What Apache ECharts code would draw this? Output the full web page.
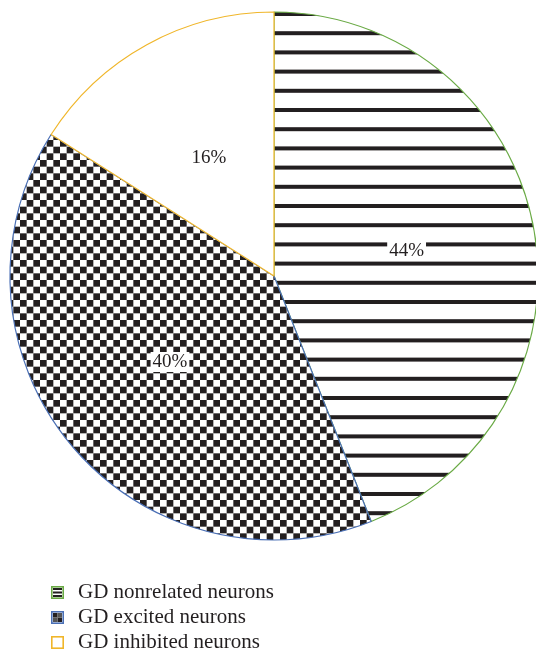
<!DOCTYPE html>
<html>
<head>
<meta charset="utf-8">
<script src="https://cdn.jsdelivr.net/npm/echarts@6/dist/echarts.min.js"></script>
<style>
  html, body { margin: 0; padding: 0; background: #fff; }
  #chart { width: 536px; height: 654px; }
</style>
</head>
<body>
<div id="chart"></div>
<script>
// Share of neurons by response to GD
const categories = ['GD nonrelated neurons', 'GD excited neurons', 'GD inhibited neurons'];
const percentages = [44, 40, 16];

const INK = '#231f20';
const edgeColors = ['#6aaa45', '#4a6fb5', '#f0b62a'];

// Horizontal stripe fill: 5 periods of 19.2px in one tile
function stripeTile() {
  const c = document.createElement('canvas');
  c.width = 64; c.height = 96;
  const g = c.getContext('2d');
  g.fillStyle = '#fff'; g.fillRect(0, 0, 64, 96);
  g.fillStyle = INK;
  for (let k = 0; k < 5; k++) {
    const y = 14 + 19.2 * k;
    g.fillRect(0, y - 2, 64, 4);
  }
  return c;
}

// Checkerboard fill: 6x6 cells of 6.67px in one tile
function checkerTile() {
  const n = 6, s = 40 / n;
  const c = document.createElement('canvas');
  c.width = 40; c.height = 40;
  const g = c.getContext('2d');
  g.fillStyle = '#fff'; g.fillRect(0, 0, 40, 40);
  g.fillStyle = INK;
  for (let i = 0; i < n; i++) {
    for (let j = 0; j < n; j++) {
      if ((i + j) % 2 === 0) g.fillRect(i * s, j * s, s, s);
    }
  }
  return c;
}

// Small framed swatches for the legend
function swatch(kind, edge) {
  const c = document.createElement('canvas');
  c.width = 13; c.height = 13;
  const g = c.getContext('2d');
  g.fillStyle = '#fff'; g.fillRect(0, 0, 13, 13);
  g.fillStyle = INK;
  if (kind === 'stripe') {
    g.fillRect(2, 2, 9, 2);
    g.fillRect(2, 5.5, 9, 2);
    g.fillRect(2, 9, 9, 2);
  } else if (kind === 'check') {
    g.fillRect(2, 2, 4.5, 4.5);
    g.fillRect(6.5, 6.5, 4.5, 4.5);
    g.fillStyle = '#555';
    g.fillRect(6.5, 2, 4.5, 4.5);
    g.fillRect(2, 6.5, 4.5, 4.5);
  }
  g.strokeStyle = edge; g.lineWidth = 1.6;
  g.strokeRect(0.8, 0.8, 11.4, 11.4);
  return 'image://' + c.toDataURL();
}

const fills = [
  { image: stripeTile(), repeat: 'repeat' },
  { image: checkerTile(), repeat: 'repeat' },
  '#ffffff'
];
const swatchKinds = ['stripe', 'check', 'plain'];
const labelBoxes = [true, true, false];

const chart = echarts.init(document.getElementById('chart'), null, { renderer: 'canvas' });

chart.setOption({
  animation: false,
  backgroundColor: '#fff',
  legend: {
    orient: 'vertical',
    left: 46,
    top: 577,
    height: 120,
    itemWidth: 13,
    itemHeight: 13,
    itemGap: 4,
    selectedMode: false,
    textStyle: { fontFamily: 'Liberation Serif', fontSize: 21, color: '#231f20', padding: [0, 0, 0, 9] },
    data: categories.map((name, i) => ({ name, icon: swatch(swatchKinds[i], edgeColors[i]) }))
  },
  series: [{
    type: 'pie',
    center: [274, 276],
    radius: [0, 264],
    startAngle: 90,
    clockwise: true,
    silent: true,
    label: {
      show: true,
      position: 'inside',
      formatter: '{c}%',
      fontFamily: 'Liberation Serif',
      fontSize: 19,
      color: '#231f20'
    },
    labelLine: { show: false },
    emphasis: { disabled: true },
    data: categories.map((name, i) => ({
      name,
      value: percentages[i],
      itemStyle: { color: fills[i], borderColor: edgeColors[i], borderWidth: 1.2 },
      label: labelBoxes[i]
        ? { backgroundColor: '#fff', padding: [1, 2, 0, 2] }
        : {}
    }))
  }]
});
</script>
</body>
</html>
